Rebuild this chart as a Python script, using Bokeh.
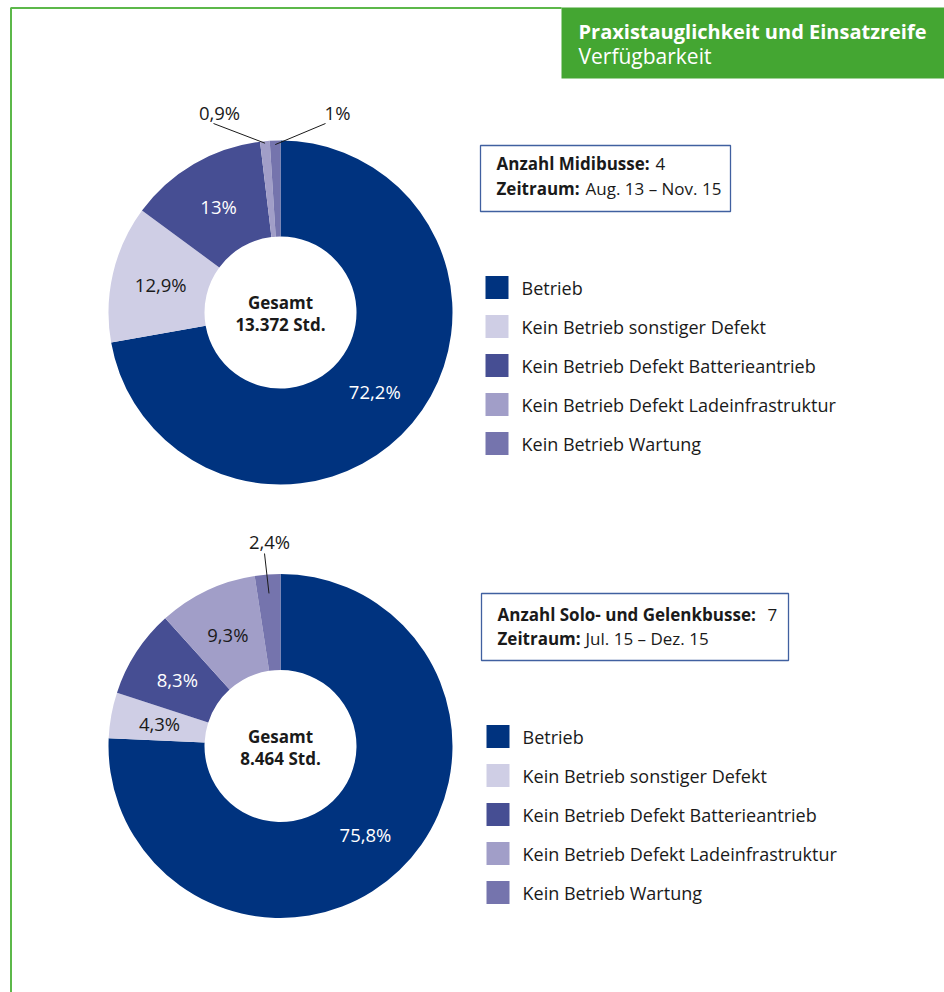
import numpy as np
from bokeh.plotting import figure
from bokeh.models import Range1d, ColumnDataSource
from bokeh.core.properties import value
from bokeh.embed import file_html
from bokeh.resources import INLINE

# ---------------- data ----------------
categories = ["Betrieb", "Kein Betrieb sonstiger Defekt", "Kein Betrieb Defekt Batterieantrieb",
              "Kein Betrieb Defekt Ladeinfrastruktur", "Kein Betrieb Wartung"]
colors = ["#00337f", "#cfcee5", "#464e93", "#a19ec8", "#7574ad"]

midi_values = [72.2, 12.9, 13.0, 0.9, 1.0]
midi_labels = ["72,2%", "12,9%", "13%", "0,9%", "1%"]
midi_total = ["Gesamt", "13.372 Std."]
midi_info_bold = ["Anzahl Midibusse:", "Zeitraum:"]
midi_info_norm = ["4", "Aug. 13 – Nov. 15"]

solo_values = [75.8, 4.3, 8.3, 9.3, 2.4]
solo_labels = ["75,8%", "4,3%", "8,3%", "9,3%", "2,4%"]
solo_total = ["Gesamt", "8.464 Std."]
solo_info_bold = ["Anzahl Solo- und Gelenkbusse:", "Zeitraum:"]
solo_info_norm = ["7", "Jul. 15 – Dez. 15"]

header_title = "Praxistauglichkeit und Einsatzreife"
header_sub = "Verfügbarkeit"

# ---------------- layout ----------------
W, H = 944, 992
FONT = value("Open Sans")
DARK = "#1a1a1a"
GREEN = "#44a632"
FRAME_GREEN = "#5cb84a"
BOX_BLUE = "#4060a0"
R_OUT, R_IN = 172, 76


def px(x):
    return x


def py(y):
    return H - y


p = figure(width=W, height=H, x_range=Range1d(0, W), y_range=Range1d(0, H),
           x_axis_type=None, y_axis_type=None, toolbar_location=None,
           output_backend="svg", min_border=0, outline_line_color=None)
p.xgrid.visible = False
p.ygrid.visible = False
p.background_fill_color = "white"
p.border_fill_color = "white"

# frame lines
p.segment(x0=[px(10.5), px(10)], y0=[py(7.5), py(7.5)], x1=[px(10.5), px(561)], y1=[py(992), py(7.5)],
          line_color=FRAME_GREEN, line_width=2)

# header box
p.quad(left=[px(561)], right=[W], top=[py(7)], bottom=[py(78)], fill_color=GREEN, line_color=None)
p.text(x=[px(578)], y=[py(31)], text=[header_title], text_font=FONT, text_font_style="bold",
       text_font_size="20px", text_color="white", text_baseline="middle", text_align="left")
p.text(x=[px(578)], y=[py(55)], text=[header_sub], text_font=FONT,
       text_font_size="21px", text_color="white", text_baseline="middle", text_align="left")


def donut(vals, labels, totals, cy_ref, callouts):
    cx, cy = px(280), py(cy_ref)
    frac = np.array(vals, dtype=float) / sum(vals)
    cum = np.concatenate([[0.0], np.cumsum(frac)])
    start = np.pi / 2 - 2 * np.pi * cum[:-1]
    end = np.pi / 2 - 2 * np.pi * cum[1:]
    src = ColumnDataSource(dict(start=start, end=end, color=colors))
    p.annular_wedge(x=cx, y=cy, inner_radius=R_IN, outer_radius=R_OUT,
                    start_angle="start", end_angle="end", direction="clock",
                    fill_color="color", line_color=None, source=src)
    mid = (start + end) / 2
    lx, ly, lt, lc = [], [], [], []
    for i, lab in enumerate(labels):
        if i in callouts:
            tx, ty, sx, sy, rr = callouts[i]
            ex, ey = cx + rr * np.cos(mid[i]), cy + rr * np.sin(mid[i])
            p.segment(x0=[px(sx)], y0=[py(sy)], x1=[ex], y1=[ey], line_color=DARK, line_width=1)
            lx.append(px(tx)); ly.append(py(ty)); lt.append(lab); lc.append(DARK)
        else:
            r = 123
            lx.append(cx + r * np.cos(mid[i])); ly.append(cy + r * np.sin(mid[i]))
            lt.append(lab)
            lc.append("white" if i in (0, 2) else DARK)
    p.text(x=lx, y=ly, text=lt, text_color=lc, text_font=FONT, text_font_size="18.5px",
           text_align="center", text_baseline="middle")
    p.text(x=[cx, cx], y=[cy + 10, cy - 12], text=totals, text_font=FONT, text_font_style="bold",
           text_font_size="17px", text_color=DARK, text_align="center", text_baseline="middle")


def info_box(left, right, top, bottom, bold, norm, norm_x, line_y):
    p.quad(left=[px(left)], right=[px(right)], top=[py(top)], bottom=[py(bottom)],
           fill_color="white", line_color=BOX_BLUE, line_width=1.3)
    p.text(x=[px(left + 16)] * 2, y=[py(v) for v in line_y], text=bold, text_font=FONT,
           text_font_style="bold", text_font_size="17px", text_color=DARK,
           text_align="left", text_baseline="middle")
    p.text(x=[px(v) for v in norm_x], y=[py(v) for v in line_y], text=norm, text_font=FONT,
           text_font_size="17px", text_color=DARK, text_align="left", text_baseline="middle")


def legend(y0_ref, x_sq):
    ys = [py(y0_ref + 39 * i) for i in range(len(categories))]
    p.rect(x=[px(x_sq + 11.5)] * len(categories), y=ys, width=23, height=23,
           fill_color=colors, line_color=None)
    p.text(x=[px(x_sq + 36)] * len(categories), y=ys, text=categories, text_font=FONT,
           text_font_size="18px", text_color=DARK, text_align="left", text_baseline="middle")


# top donut (Midibusse)
donut(midi_values, midi_labels, midi_total, 312,
      {3: (219, 112, 213, 123, 170), 4: (337, 112, 325, 123, 168)})
info_box(480, 730, 145, 211, midi_info_bold, midi_info_norm, [655, 585], [163, 188])
legend(287, 485)

# bottom donut (Solo- und Gelenkbusse)
donut(solo_values, solo_labels, solo_total, 745.5,
      {4: (269, 541, 264, 553, 153)})
info_box(481, 788, 593, 660, solo_info_bold, solo_info_norm, [767, 585], [614, 638])
legend(736, 486)

open("out.html", "w").write(file_html(p, INLINE))
